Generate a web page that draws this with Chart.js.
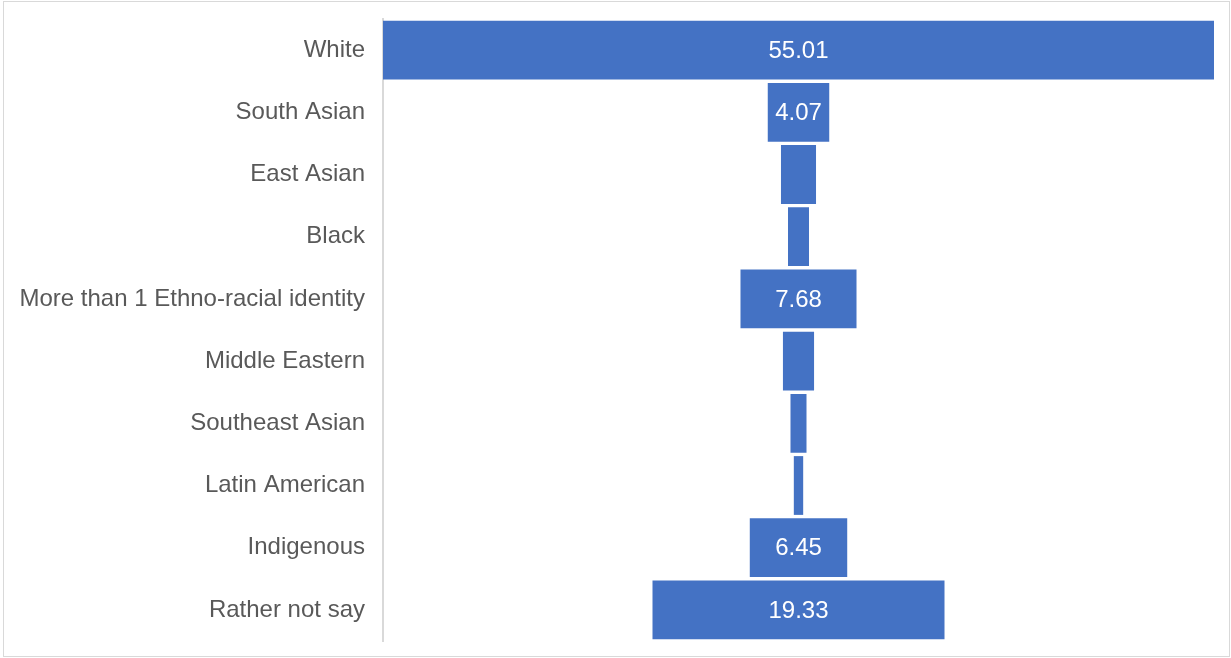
<!DOCTYPE html>
<html>
<head>
<meta charset="utf-8">
<script src="https://cdn.jsdelivr.net/npm/chart.js@4"></script>
<style>
  html, body { margin: 0; padding: 0; background: #ffffff; }
  #wrap { width: 1231px; height: 658px; position: relative; }
</style>
</head>
<body>
<div id="wrap"><canvas id="c" width="1231" height="658"></canvas></div>
<script>
const categories = ["White", "South Asian", "East Asian", "Black", "More than 1 Ethno-racial identity",
  "Middle Eastern", "Southeast Asian", "Latin American", "Indigenous", "Rather not say"];
const values = [55.01, 4.07, 2.32, 1.39, 7.68, 2.06, 1.06, 0.62, 6.45, 19.33];
const labelMin = 4;

const maxVal = Math.max(...values);
const floating = values.map(v => [-v / 2, v / 2]);

const framePlugin = {
  id: 'frame',
  afterDraw(chart) {
    const ctx = chart.ctx;
    ctx.save();
    ctx.strokeStyle = '#d9d9d9';
    ctx.lineWidth = 1;
    ctx.strokeRect(3.5, 1.5, 1226, 655);
    ctx.restore();
  }
};

const valueLabels = {
  id: 'valueLabels',
  afterDatasetsDraw(chart) {
    const ctx = chart.ctx;
    const meta = chart.getDatasetMeta(0);
    ctx.save();
    ctx.fillStyle = '#ffffff';
    ctx.font = '24px "Liberation Sans", Arial, sans-serif';
    ctx.textAlign = 'center';
    ctx.textBaseline = 'middle';
    meta.data.forEach((bar, i) => {
      if (values[i] < labelMin) return;
      ctx.fillText(values[i].toFixed(2), (bar.x + bar.base) / 2, bar.y + 1);
    });
    ctx.restore();
  }
};

new Chart(document.getElementById('c'), {
  type: 'bar',
  data: {
    labels: categories,
    datasets: [{
      data: floating,
      backgroundColor: '#4472c4',
      borderWidth: 0,
      categoryPercentage: 0.945,
      barPercentage: 1.0
    }]
  },
  options: {
    indexAxis: 'y',
    responsive: false,
    animation: false,
    layout: { padding: { top: 19, bottom: 17, left: 0, right: 17 } },
    plugins: { legend: { display: false }, tooltip: { enabled: false } },
    scales: {
      x: {
        display: false,
        min: -maxVal / 2,
        max: maxVal / 2
      },
      y: {
        afterFit(scale) { scale.width = 383; scale.paddingTop = 0; scale.paddingBottom = 0; },
        grid: { display: false, drawTicks: false },
        border: { display: true, color: '#d9d9d9', width: 2 },
        ticks: {
          padding: 18,
          color: '#595959',
          font: { family: '"Liberation Sans", Arial, sans-serif', size: 24 }
        }
      }
    }
  },
  plugins: [framePlugin, valueLabels]
});
</script>
</body>
</html>
